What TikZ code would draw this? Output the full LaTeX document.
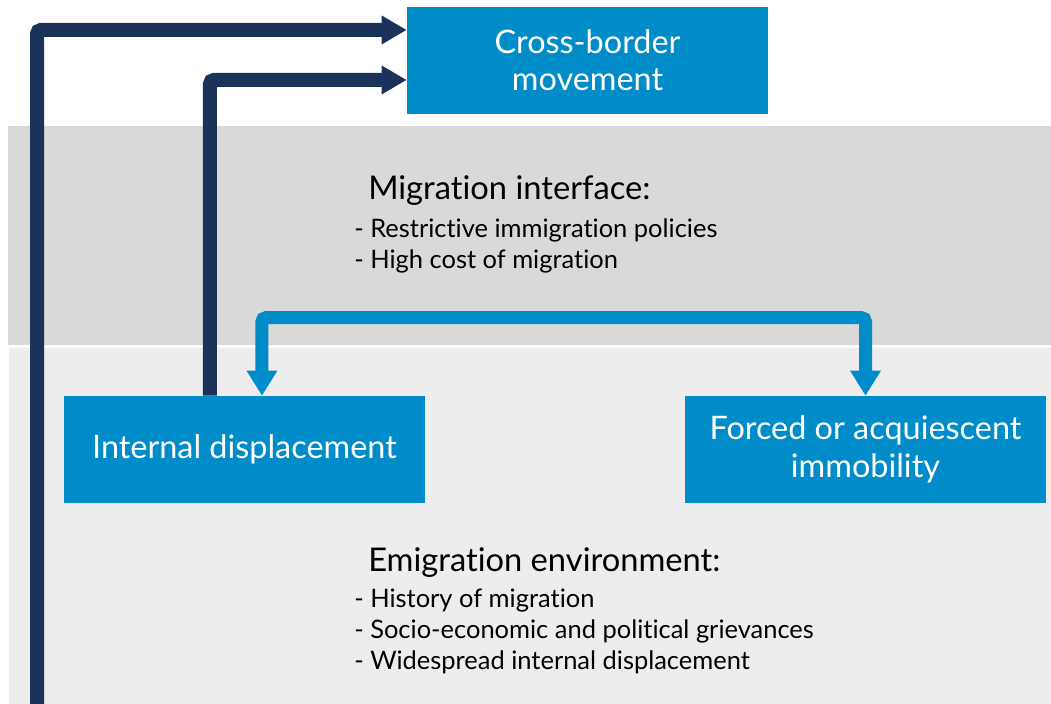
\documentclass[tikz,border=0pt]{standalone}
\usepackage{fontspec}
\setmainfont{Lato}[Ligatures=CommonOff]
\usetikzlibrary{arrows.meta,positioning}
\definecolor{boxblue}{RGB}{0,140,201}
\definecolor{navy}{RGB}{27,51,88}
\definecolor{bandgray}{RGB}{217,217,217}
\definecolor{bandlight}{RGB}{237,237,237}

\begin{document}
\begin{tikzpicture}[x=0.75pt,y=-0.75pt,
		box/.style={fill=boxblue,text=white,minimum width=270.75pt,minimum height=80.25pt,align=center,font=\fontsize{24.3}{28}\selectfont,inner sep=0pt},
		navyarrow/.style={draw=navy,line width=10.5pt,rounded corners=3pt,-{Triangle[width=20.25pt,length=18.75pt]}},
		bluearrow/.style={draw=boxblue,line width=9.75pt,rounded corners=3pt,{Triangle[width=21.75pt,length=18.75pt]}-{Triangle[width=21.75pt,length=18.75pt]}},
		heading/.style={anchor=west,inner sep=0pt,font=\fontsize{24.5}{28}\selectfont},
		points/.style={anchor=west,inner sep=0pt,align=left,font=\fontsize{19.1}{23.25}\selectfont}]
		\useasboundingbox (0,0) rectangle (1051,704);
		\fill[bandgray] (8,126) rectangle (1051,345);
		\fill[bandlight] (9,348) rectangle (1051,704);

		\node[box] (cross) at (587.5,60.5) {\raisebox{-1.5pt}{\parbox{200pt}{\centering Cross-border\\movement}}};
		\node[box] (internal) at (244.5,449.5) {Internal displacement};
		\node[box] (forced) at (865.5,449.5) {\raisebox{-1.5pt}{\parbox{260pt}{\centering Forced or acquiescent\\immobility}}};

		\node[heading] (migint) at (368,191) {Migration interface:};
		\node[points] (miglist) at (354,245.5) {- Restrictive immigration policies\\- High cost of migration};
		\node[heading] (emienv) at (368,562.5) {Emigration environment:};
		\node[points] (emilist) at (354,631.5) {- History of migration\\- Socio-economic and political grievances\\- Widespread internal displacement};

		\coordinate (start) at (37,704);
		\draw[navyarrow] (start) |- ([yshift=22.9pt]cross.west);
		\draw[navyarrow] ([xshift=-25.9pt]internal.north) |- ([yshift=-14.6pt]cross.west);
		\draw[bluearrow] ([xshift=13.1pt]internal.north) -- ++(0,-78) -| (forced.north);
	\end{tikzpicture}
\end{document}
